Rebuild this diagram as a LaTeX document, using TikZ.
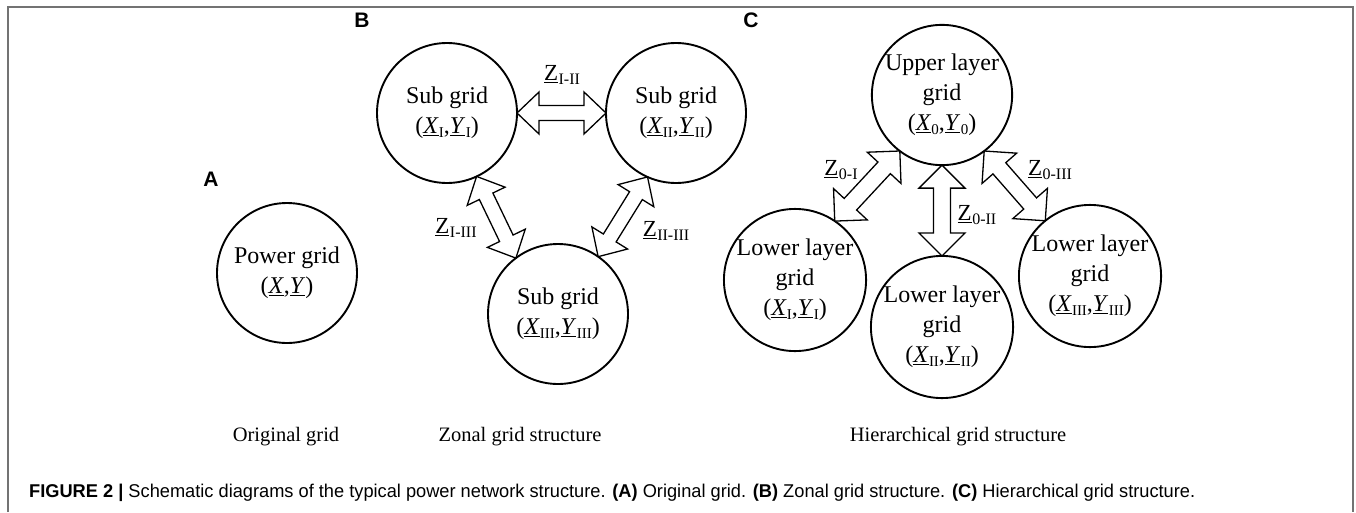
\documentclass[tikz,border=0pt]{standalone}
\usepackage{fontspec}
\usepackage{graphicx}
\setmainfont{Liberation Serif}
\newfontfamily\labfont{Liberation Sans}
\usetikzlibrary{calc}

% underlined italic grid variable with an upright subscript
\newcommand{\gvar}[2]{\underline{\textit{#1}}\kern0.3pt\raisebox{-0.35ex}{\fontsize{15}{15}\selectfont #2}}
% underlined impedance symbol with an upright subscript
\newcommand{\zsym}[1]{\underline{Z}\kern0.5pt\raisebox{-0.4ex}{\fontsize{16}{16}\selectfont #1}}

% geometry of the hollow double arrows (head length, head half width, shaft half width)
\newcommand{\ahl}{22pt}
\newcommand{\ahw}{21pt}
\newcommand{\asw}{7.5pt}

% hollow double-headed arrow between two named coordinates
\newcommand{\zarrow}[2]{%
  \draw[zarr] (#1)
    -- ($(#1)!\ahl!(#2)!\ahw!90:(#2)$)
    -- ($(#1)!\ahl!(#2)!\asw!90:(#2)$)
    -- ($(#2)!\ahl!(#1)!\asw!-90:(#1)$)
    -- ($(#2)!\ahl!(#1)!\ahw!-90:(#1)$)
    -- (#2)
    -- ($(#2)!\ahl!(#1)!\ahw!90:(#1)$)
    -- ($(#2)!\ahl!(#1)!\asw!90:(#1)$)
    -- ($(#1)!\ahl!(#2)!\asw!-90:(#2)$)
    -- ($(#1)!\ahl!(#2)!\ahw!-90:(#2)$)
    -- cycle;}

\begin{document}
\begin{tikzpicture}[x=1pt,y=-1pt,
  grid/.style={circle,draw,line width=1.9pt,minimum size=140pt,inner sep=0pt,
    outer sep=0pt,align=center,font=\fontsize{24}{30}\selectfont},
  zarr/.style={draw,line width=1.3pt,fill=white,line join=miter},
  panel/.style={font=\labfont\bfseries\fontsize{21}{21}\selectfont,inner sep=0pt},
  zlab/.style={font=\fontsize{23}{23}\selectfont,inner sep=0pt},
  title/.style={font=\fontsize{20.5}{24}\selectfont,anchor=base,inner sep=0pt},
  frame/.style={draw=black!55,line width=1.5pt}]
\useasboundingbox (0,0) rectangle (1356,512);

% outer frame
\draw[frame] (8,512) -- (8,7) -- (1353,7) -- (1353,512);

% panel letters
\node[panel] (la) at (211,179) {A};
\node[panel] (lb) at (362,20) {B};
\node[panel] (lc) at (751,20) {C};

% (A) original grid
\node[grid] (pg) at (287,273) {Power grid\\(\underline{\textit{X}},\underline{\textit{Y}})};

% (B) zonal grid structure
\node[grid] (s1) at (447,113) {Sub grid\\(\gvar{X}{I},\gvar{Y}{I})};
\node[grid] (s2) at (676,113) {Sub grid\\(\gvar{X}{II},\gvar{Y}{II})};
\node[grid] (s3) at (558,314) {Sub grid\\(\gvar{X}{III},\gvar{Y}{III})};

\coordinate (p12) at (s1.0);    \coordinate (q12) at (s2.180);
\coordinate (p13) at (s1.-65);  \coordinate (q13) at (s3.127);
\coordinate (p23) at (s2.-114); \coordinate (q23) at (s3.55);
\zarrow{p12}{q12}
\zarrow{p13}{q13}
\zarrow{p23}{q23}

\node[zlab] (z12) at (562,75) {\zsym{I-II}};
\node[zlab] (z13) at (456,228) {\zsym{I-III}};
\node[zlab] (z23) at (666,231) {\zsym{II-III}};

% (C) hierarchical grid structure
\node[grid] (up) at (942,95) {Upper layer\\grid\\(\gvar{X}{0},\gvar{Y}{0})};
\node[grid] (d1) at (795,280) {Lower layer\\grid\\(\gvar{X}{I},\gvar{Y}{I})};
\node[grid] (d2) at (942,327) {Lower layer\\grid\\(\gvar{X}{II},\gvar{Y}{II})};
\node[grid] (d3) at (1090,276) {Lower layer\\grid\\(\gvar{X}{III},\gvar{Y}{III})};

% the arrows of this panel are a little wider
\renewcommand{\ahl}{23pt}
\renewcommand{\ahw}{23pt}
\renewcommand{\asw}{8.5pt}
\coordinate (u1) at (up.-127); \coordinate (v1) at (d1.56);
\coordinate (u2) at (up.-90);  \coordinate (v2) at (d2.90);
\coordinate (u3) at (up.-53);  \coordinate (v3) at (d3.129);
\zarrow{u1}{v1}
\zarrow{u2}{v2}
\zarrow{u3}{v3}

\node[zlab] (z01) at (841,170) {\zsym{0-I}};
\node[zlab] (z02) at (977,215) {\zsym{0-II}};
\node[zlab] (z03) at (1050,170) {\zsym{0-III}};

% panel titles
\node[title] (ta) at (286,441) {Original grid};
\node[title] (tb) at (520,441) {Zonal grid structure};
\node[title] (tc) at (958,441) {Hierarchical grid structure};

% figure caption
\node[anchor=base west,inner sep=0pt] (cap) at (29,497) {\resizebox{1166pt}{\height}{\labfont\fontsize{18.5}{18.5}\selectfont
  \textbf{FIGURE 2 |} Schematic diagrams of the typical power network structure. \textbf{(A)} Original grid. \textbf{(B)} Zonal grid structure. \textbf{(C)} Hierarchical grid structure.}};
\end{tikzpicture}
\end{document}
